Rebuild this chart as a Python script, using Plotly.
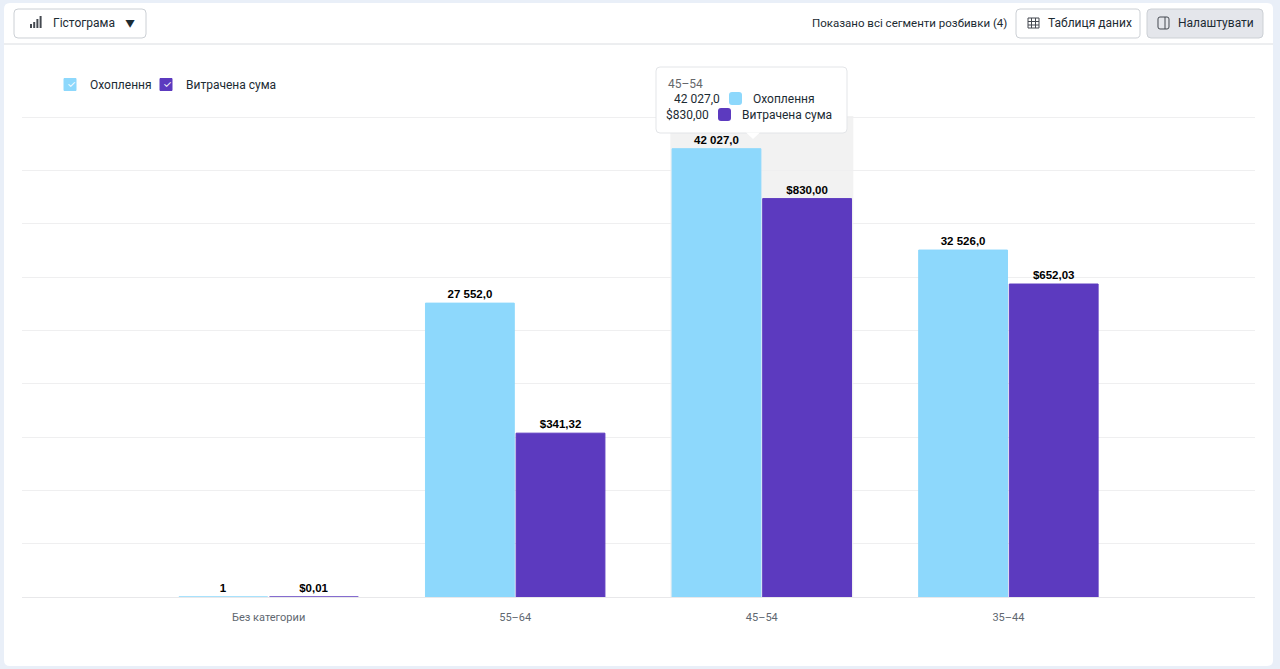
import plotly.graph_objects as go

# data
categories = ["Без категории", "55–64", "45–54", "35–44"]
reach = [1, 27552.0, 42027.0, 32526.0]
spend = [0.01, 341.32, 830.00, 652.03]
reach_labels = ["1", "27 552,0", "42 027,0", "32 526,0"]
spend_labels = ["$0,01", "$341,32", "$830,00", "$652,03"]
series_names = ["Охоплення", "Витрачена сума"]

BLUE = "#8dd8fc"
PURPLE = "#5c3abf"
TEXT = "#1c2b33"
FONT = "Roboto, Inter, sans-serif"
VALUE_FONT = "Liberation Sans, Arial, sans-serif"

W, H = 1280, 669
L, R, T, B = 22, 1255, 113, 597
GRID_TOP = 117  # pixel row of the top gridline (45000 / $1000)
reach_max = 45000 * (B - T) / (B - GRID_TOP)
spend_max = 1000 * (B - T) / (B - GRID_TOP)


def px(x):
    return (x - L) / (R - L)


def py(y):
    return (B - y) / (B - T)


def rrect(x0, y0, x1, y1, r=4):
    # rounded rectangle path in paper coords, input in pixels
    p = "M %f,%f " % (px(x0 + r), py(y0))
    p += "L %f,%f " % (px(x1 - r), py(y0))
    p += "Q %f,%f %f,%f " % (px(x1), py(y0), px(x1), py(y0 + r))
    p += "L %f,%f " % (px(x1), py(y1 - r))
    p += "Q %f,%f %f,%f " % (px(x1), py(y1), px(x1 - r), py(y1))
    p += "L %f,%f " % (px(x0 + r), py(y1))
    p += "Q %f,%f %f,%f " % (px(x0), py(y1), px(x0), py(y1 - r))
    p += "L %f,%f " % (px(x0), py(y0 + r))
    p += "Q %f,%f %f,%f Z" % (px(x0), py(y0), px(x0 + r), py(y0))
    return p


def box(x0, y0, x1, y1, fill, line="rgba(0,0,0,0)", lw=1, r=4, layer="above"):
    return dict(type="path", xref="paper", yref="paper", path=rrect(x0, y0, x1, y1, r),
                fillcolor=fill, line=dict(color=line, width=lw), layer=layer)


def label(x, y, text, size=12, color=TEXT, xanchor="left", bold=False):
    if bold:
        text = "<b>%s</b>" % text
    return dict(x=px(x), y=py(y), xref="paper", yref="paper", text=text, showarrow=False,
                xanchor=xanchor, yanchor="middle", font=dict(size=size, color=color, family=FONT))


def legend_at(x):
    return dict(orientation="h", x=px(x), y=py(70), xanchor="left", yanchor="top",
                font=dict(size=12, color=TEXT, family=FONT), bgcolor="rgba(0,0,0,0)",
                itemclick=False)


fig = go.Figure()
fig.add_trace(go.Bar(
    x=categories, y=reach, name=series_names[0], yaxis="y", offsetgroup="1", legend="legend",
    marker=dict(color=BLUE, line=dict(color=BLUE, width=1)),
    text=reach_labels, textposition="outside", cliponaxis=False,
    textfont=dict(size=11.5, color="#000000", family=VALUE_FONT, weight="bold"),
))
fig.add_trace(go.Bar(
    x=categories, y=spend, name=series_names[1], yaxis="y2", offsetgroup="2", legend="legend2",
    marker=dict(color=PURPLE, line=dict(color=PURPLE, width=1)),
    text=spend_labels, textposition="outside", cliponaxis=False,
    textfont=dict(size=11.5, color="#000000", family=VALUE_FONT, weight="bold"),
))

shapes = [
    # white card
    box(4, 3, 1273, 666, "#ffffff", r=6, layer="below"),
    # header separator
    dict(type="line", xref="paper", yref="paper", x0=px(4), x1=px(1273), y0=py(44), y1=py(44),
         line=dict(color="#dadde1", width=1), layer="below"),
    # chart type dropdown
    box(14, 9, 146, 38, "#ffffff", "#ccd0d5"),
    # data table button
    box(1016, 9, 1140, 38, "#ffffff", "#ccd0d5"),
    # settings button
    box(1147, 9, 1263, 38, "#e4e6eb", "#ccd0d5"),
    # hover band
    dict(type="rect", xref="x", yref="paper", x0=2 - 0.371, x1=2 + 0.371, y0=0, y1=py(116),
         fillcolor="#f2f2f2", line=dict(width=0), layer="between"),
    # tooltip
    box(656, 67, 847, 133, "#ffffff", "#e3e5e8", r=4),
    dict(type="path", xref="paper", yref="paper", layer="above",
         path="M %f,%f L %f,%f L %f,%f Z" % (px(746), py(132.5), px(760), py(132.5), px(753), py(139)),
         fillcolor="#ffffff", line=dict(width=0)),
    # tooltip swatches
    box(729, 92, 742, 105, BLUE, r=3),
    box(718, 108, 731, 121, PURPLE, r=3),
]

# tiny icons
for i, h in enumerate([4, 6, 9, 12]):
    x0 = 30 + i * 3.2
    shapes.append(dict(type="rect", xref="paper", yref="paper", x0=px(x0), x1=px(x0 + 2),
                       y0=py(28), y1=py(28 - h), fillcolor="#444950", line=dict(width=0)))
shapes.append(dict(type="rect", xref="paper", yref="paper", x0=px(1028), x1=px(1039),
                   y0=py(28), y1=py(18), fillcolor="rgba(0,0,0,0)", line=dict(color="#444950", width=1)))
for yy in [21.5, 25]:
    shapes.append(dict(type="line", xref="paper", yref="paper", x0=px(1028), x1=px(1039),
                       y0=py(yy), y1=py(yy), line=dict(color="#444950", width=1)))
for xx in [1031.5, 1035.5]:
    shapes.append(dict(type="line", xref="paper", yref="paper", x0=px(xx), x1=px(xx),
                       y0=py(18), y1=py(28), line=dict(color="#444950", width=1)))
shapes.append(box(1158, 17, 1169, 29, "rgba(0,0,0,0)", "#444950", r=2))
shapes.append(dict(type="line", xref="paper", yref="paper", x0=px(1165), x1=px(1165),
                   y0=py(17), y1=py(29), line=dict(color="#444950", width=1)))

annotations = [
    label(51, 23, "Гістограма", size=12),
    label(130, 24, "▼", size=10, xanchor="center"),
    label(1009, 23, "Показано всі сегменти розбивки (4)", size=11.5, xanchor="right"),
    label(1046, 23, "Таблиця даних"),
    label(1176, 23, "Налаштувати"),
    # tooltip text
    label(666, 84, "45–54", color="#65676b"),
    label(722, 99, reach_labels[2], xanchor="right"),
    label(751, 99, series_names[0]),
    label(711, 115, spend_labels[2], xanchor="right"),
    label(740, 115, series_names[1]),
    # legend check marks
    label(71.5, 85, "✓", size=10, color="#ffffff", xanchor="center"),
    label(167.5, 85, "✓", size=10, color="#ffffff", xanchor="center"),
]

fig.update_layout(
    width=W, height=H,
    margin=dict(l=L, r=W - R, t=T, b=H - B, pad=0),
    paper_bgcolor="#e9eff8",
    plot_bgcolor="rgba(0,0,0,0)",
    font=dict(family=FONT, color=TEXT, size=12),
    barmode="group", bargap=0.265, bargroupgap=0.02,
    showlegend=True,
    legend=legend_at(50),
    legend2=legend_at(146),
    xaxis=dict(type="category", range=[-1, 4], showgrid=False, zeroline=False, showline=False,
               ticks="", tickfont=dict(size=11, color="#606770"), ticklabelstandoff=12),
    yaxis=dict(range=[0, reach_max], tick0=0, dtick=5000, showticklabels=False, gridcolor="#efeff0",
               gridwidth=1, zeroline=True, zerolinecolor="#e8e8ea", zerolinewidth=1),
    yaxis2=dict(range=[0, spend_max], overlaying="y", side="right", showgrid=False,
                showticklabels=False, zeroline=False),
    shapes=shapes,
    annotations=annotations,
    hovermode=False,
)

fig.write_html("out.html", config={"displayModeBar": False},
               post_script="document.body.style.margin='0';")
